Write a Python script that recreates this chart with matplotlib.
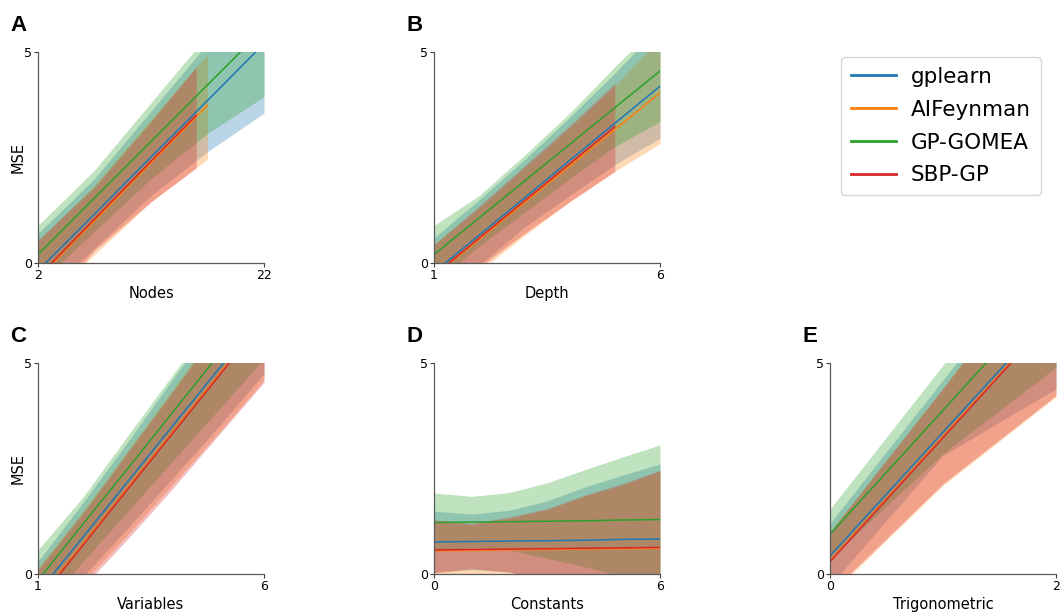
import matplotlib.pyplot as plt
import numpy as np

# Metodos y colores
methods = ['gplearn', 'AIFeynman', 'GP-GOMEA', 'SBP-GP']
colors = ['#1f77b4', '#ff7f0e', '#2ca02c', '#d62728']

# Panel A - Nodes
a_x = {'gplearn': [2, 7, 12, 17, 22], 'AIFeynman': [2, 7, 12, 17],
       'GP-GOMEA': [2, 7, 12, 17, 22], 'SBP-GP': [2, 7, 12, 16]}
a_mean = {'gplearn': [-0.18, 1.16, 2.51, 3.85, 5.2], 'AIFeynman': [-0.36, 1.0, 2.37, 3.74],
          'GP-GOMEA': [0.2, 1.54, 2.88, 4.22, 5.56], 'SBP-GP': [-0.33, 1.04, 2.41, 3.5]}
a_lo = {'gplearn': [-0.9, 0.35, 1.6, 2.64, 3.55], 'AIFeynman': [-1.1, 0.2, 1.45, 2.46],
        'GP-GOMEA': [-0.5, 0.75, 2.0, 3.07, 3.94], 'SBP-GP': [-1.2, 0.3, 1.45, 2.25]}
a_hi = {'gplearn': [0.7, 2.0, 3.6, 5.2, 6.8], 'AIFeynman': [0.5, 1.85, 3.4, 4.95],
        'GP-GOMEA': [0.89, 2.2, 3.8, 5.4, 7.0], 'SBP-GP': [0.55, 1.8, 3.35, 4.65]}

# Panel B - Depth
b_x = {'gplearn': [1, 2, 3, 4, 5, 6], 'AIFeynman': [1, 2, 3, 4, 5, 6],
       'GP-GOMEA': [1, 2, 3, 4, 5, 6], 'SBP-GP': [1, 2, 3, 4, 5]}
b_mean = {'gplearn': [-0.22, 0.66, 1.54, 2.43, 3.31, 4.19],
          'AIFeynman': [-0.31, 0.56, 1.43, 2.29, 3.16, 4.03],
          'GP-GOMEA': [0.2, 1.07, 1.94, 2.81, 3.68, 4.55],
          'SBP-GP': [-0.29, 0.59, 1.47, 2.35, 3.23]}
b_lo = {'gplearn': [-0.9, -0.05, 0.85, 1.6, 2.33, 2.96],
        'AIFeynman': [-1.1, -0.2, 0.65, 1.45, 2.17, 2.83],
        'GP-GOMEA': [-0.5, 0.4, 1.2, 2.0, 2.76, 3.35],
        'SBP-GP': [-1.1, -0.1, 0.7, 1.45, 2.17]}
b_hi = {'gplearn': [0.6, 1.5, 2.45, 3.45, 4.5, 5.6],
        'AIFeynman': [0.45, 1.3, 2.25, 3.2, 4.2, 5.3],
        'GP-GOMEA': [0.89, 1.6, 2.55, 3.55, 4.65, 5.7],
        'SBP-GP': [0.43, 1.35, 2.3, 3.25, 4.26]}

# Panel C - Variables
c_x = [1, 2, 3, 4, 5, 6]
c_mean = {'gplearn': [-0.44, 0.88, 2.21, 3.54, 4.86, 6.19],
          'AIFeynman': [-0.61, 0.72, 2.06, 3.39, 4.72, 6.06],
          'GP-GOMEA': [-0.15, 1.19, 2.52, 3.86, 5.2, 6.53],
          'SBP-GP': [-0.64, 0.69, 2.03, 3.36, 4.69, 6.03]}
c_lo = {'gplearn': [-1.2, -0.05, 1.1, 2.3, 3.5, 4.75],
        'AIFeynman': [-1.35, -0.2, 0.95, 2.15, 3.35, 4.6],
        'GP-GOMEA': [-0.9, 0.3, 1.5, 2.7, 3.9, 5.1],
        'SBP-GP': [-1.45, -0.3, 0.85, 2.05, 3.3, 4.54]}
c_hi = {'gplearn': [0.3, 1.7, 3.15, 4.65, 6.1, 7.6],
        'AIFeynman': [0.15, 1.5, 2.95, 4.4, 5.9, 7.4],
        'GP-GOMEA': [0.57, 1.83, 3.3, 4.75, 6.2, 7.7],
        'SBP-GP': [0.1, 1.45, 2.9, 4.35, 5.8, 7.3]}

# Panel D - Constants
d_x = [0, 1, 2, 3, 4, 5, 6]
d_mean = {'gplearn': [0.76, 0.77, 0.78, 0.79, 0.8, 0.82, 0.83],
          'AIFeynman': [0.55, 0.56, 0.57, 0.58, 0.59, 0.6, 0.61],
          'GP-GOMEA': [1.22, 1.23, 1.24, 1.25, 1.26, 1.28, 1.29],
          'SBP-GP': [0.57, 0.58, 0.59, 0.6, 0.61, 0.62, 0.63]}
d_lo = {'gplearn': [0.05, 0.1, 0.05, -0.2, -0.4, -0.6, -0.8],
        'AIFeynman': [-0.3, -0.2, -0.3, -0.5, -0.7, -0.9, -1.1],
        'GP-GOMEA': [0.53, 0.63, 0.57, 0.37, 0.17, -0.05, -0.3],
        'SBP-GP': [0.02, 0.13, 0.05, -0.2, -0.4, -0.6, -0.8]}
d_hi = {'gplearn': [1.49, 1.42, 1.51, 1.73, 2.06, 2.34, 2.61],
        'AIFeynman': [1.25, 1.17, 1.32, 1.52, 1.84, 2.11, 2.43],
        'GP-GOMEA': [1.92, 1.84, 1.93, 2.16, 2.47, 2.77, 3.06],
        'SBP-GP': [1.29, 1.2, 1.35, 1.55, 1.87, 2.14, 2.46]}

# Panel E - Trigonometric
e_x = [0, 1, 2]
e_mean = {'gplearn': [0.43, 3.36, 6.29], 'AIFeynman': [0.31, 3.25, 6.19],
          'GP-GOMEA': [0.94, 3.88, 6.82], 'SBP-GP': [0.29, 3.23, 6.17]}
e_lo = {'gplearn': [-0.27, 2.81, 4.39], 'AIFeynman': [-0.5, 2.1, 4.2],
        'GP-GOMEA': [0.37, 2.85, 4.9], 'SBP-GP': [-0.45, 2.14, 4.23]}
e_hi = {'gplearn': [1.2, 4.6, 8.0], 'AIFeynman': [1.0, 4.4, 7.9],
        'GP-GOMEA': [1.54, 4.95, 8.3], 'SBP-GP': [1.0, 4.4, 7.9]}

panels = [
    ('A', 'Nodes', a_x, a_mean, a_lo, a_hi, (2, 22), True, [38, 52]),
    ('B', 'Depth', b_x, b_mean, b_lo, b_hi, (1, 6), False, [434, 52]),
    ('C', 'Variables', c_x, c_mean, c_lo, c_hi, (1, 6), True, [38, 363]),
    ('D', 'Constants', d_x, d_mean, d_lo, d_hi, (0, 6), False, [434, 363]),
    ('E', 'Trigonometric', e_x, e_mean, e_lo, e_hi, (0, 2), False, [830, 363]),
]

W, H = 1061, 613
fig = plt.figure(figsize=(W / 100, H / 100), dpi=100)

for letter, xlabel, xs, means, los, his, xlim, show_ylabel, (px, py) in panels:
    ax = fig.add_axes([px / W, 1 - (py + 211) / H, 226 / W, 211 / H])
    for m, c in zip(methods, colors):
        x = xs[m] if isinstance(xs, dict) else xs
        ax.fill_between(x, los[m], his[m], color=c, alpha=0.3, linewidth=0)
        ax.plot(x, means[m], color=c, linewidth=1.1)
    ax.set_xlim(*xlim)
    ax.set_ylim(0, 5)
    ax.set_xticks(list(xlim))
    ax.set_yticks([0, 5])
    ax.tick_params(labelsize=9, length=3, width=0.8, colors='0.25',
                   labelcolor='black', pad=1)
    ax.spines['top'].set_visible(False)
    ax.spines['right'].set_visible(False)
    for s in ['left', 'bottom']:
        ax.spines[s].set_color('0.35')
        ax.spines[s].set_linewidth(0.9)
    ax.set_xlabel(xlabel, fontsize=10.5, labelpad=3)
    if show_ylabel:
        ax.set_ylabel('MSE', fontsize=10.5, labelpad=-1)
    fig.text((px - 28) / W, 1 - (py - 21) / H, letter, fontsize=16,
             fontweight='bold', family='Liberation Sans', va='baseline')

# Leyenda
handles = [plt.Line2D([], [], color=c, linewidth=2) for c in colors]
fig.legend(handles, methods, loc='upper left', bbox_to_anchor=(841 / W, 1 - 57 / H),
           fontsize=15.5, handlelength=2.1, frameon=True, borderpad=0.45,
           borderaxespad=0, labelspacing=0.6, handletextpad=0.7)

fig.savefig('out.png', dpi=100)
